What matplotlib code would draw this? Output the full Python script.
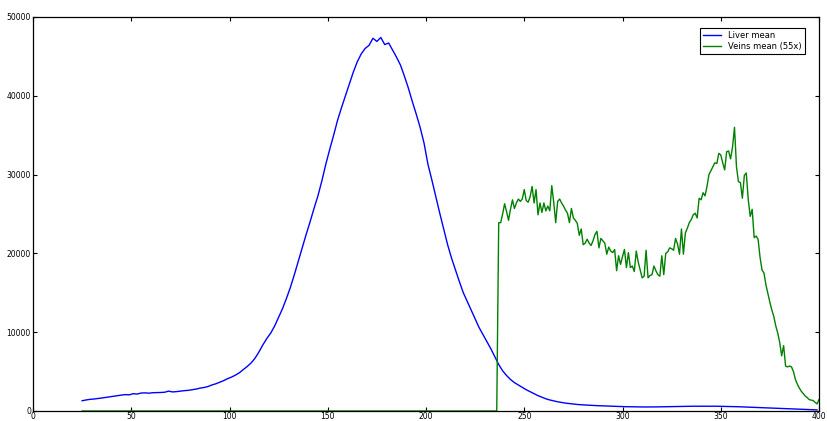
import matplotlib
matplotlib.use("Agg")
import matplotlib.pyplot as plt
import numpy as np

# liver mean, read every 2 units from x=25
liver_x = np.arange(25, 401, 2)
liver_mean = [
    1300, 1400, 1480, 1520, 1580, 1650, 1720, 1800, 1870, 1950,
    2020, 2080, 2050, 2200, 2150, 2280, 2300, 2260, 2320, 2330,
    2350, 2380, 2520, 2420, 2460, 2520, 2580, 2620, 2700, 2780,
    2900, 2980, 3100, 3300, 3450, 3650, 3850, 4100, 4300, 4550,
    4850, 5250, 5650, 6100, 6700, 7500, 8400, 9200, 9900, 10800,
    11900, 13000, 14300, 15700, 17300, 19000, 20700, 22400, 24000, 25700,
    27300, 29200, 31300, 33200, 35000, 36900, 38500, 40000, 41500, 43000,
    44300, 45300, 46000, 46400, 47300, 46900, 47400, 46500, 46700, 45800,
    44900, 43900, 42500, 41000, 39300, 37700, 36000, 34000, 31300, 29300,
    27200, 25100, 23100, 21100, 19400, 17900, 16400, 15000, 13900, 12800,
    11700, 10600, 9700, 8800, 7900, 6900, 5900, 5100, 4500, 4000,
    3600, 3300, 3000, 2700, 2450, 2200, 1950, 1750, 1550, 1400,
    1280, 1170, 1080, 1000, 940, 880, 830, 790, 760, 730,
    700, 680, 660, 640, 620, 600, 580, 560, 550, 540,
    530, 520, 520, 510, 510, 520, 520, 530, 540, 550,
    560, 570, 580, 590, 600, 600, 610, 600, 610, 600,
    600, 610, 600, 590, 570, 560, 550, 540, 520, 500,
    480, 460, 440, 420, 400, 380, 360, 340, 320, 300,
    280, 260, 240, 220, 200, 180, 160, 140,
]

# veins mean (scaled 55x), zero from x=25 to 236, then one value per unit
veins_start = 25
veins_zero_until = 236
veins_values = [
    23900, 23900, 25000, 26300, 25300, 24200, 25600, 26800, 25700, 26400,  # 237-246
    26900, 26600, 26900, 28100, 26700, 26500, 27200, 28500, 26400, 28100,  # 247-256
    24900, 26400, 25200, 26400, 25400, 26000, 25400, 28600, 26500, 23900,  # 257-266
    26600, 26900, 26400, 26000, 25500, 25100, 23900, 25700, 24500, 24200,  # 267-276
    23800, 22300, 23100, 21100, 21300, 21800, 21300, 21000, 21600, 22400,  # 277-286
    22800, 20700, 21900, 21600, 21300, 19900, 20800, 20300, 20100, 20500,  # 287-296
    17800, 19700, 18600, 19600, 20500, 18200, 20100, 18200, 18400, 17700,  # 297-306
    20300, 18900, 17900, 16900, 17100, 20400, 16900, 17200, 17300, 18400,  # 307-316
    17800, 17300, 17100, 19700, 17300, 20000, 20200, 20700, 20600, 20400,  # 317-326
    21900, 21200, 19900, 23100, 19900, 22600, 23200, 23900, 24300, 24900,  # 327-336
    25100, 24500, 27000, 26800, 27700, 27300, 28500, 30000, 30500, 31000,  # 337-346
    31500, 31400, 32700, 32500, 31500, 30600, 32900, 33000, 32000, 33500,  # 347-356
    36000, 31000, 29100, 29000, 27000, 29900, 30200, 26800, 24700, 25600,  # 357-366
    22000, 22200, 21800, 19500, 17900, 17500, 16000, 14900, 13800, 12800,  # 367-376
    12000, 10800, 9900, 8700, 7000, 8300, 5700, 5600, 5700, 5600,         # 377-386
    5000, 4000, 3400, 2900, 2500, 2200, 1900, 1700, 1450, 1380,          # 387-396
    1330, 1100, 900, 1450,                                               # 397-400
]
veins_x = np.arange(veins_start, veins_zero_until + 1 + len(veins_values))
veins_mean = np.concatenate([np.zeros(veins_zero_until - veins_start + 1),
                             veins_values])

x_ticks = [0, 50, 100, 150, 200, 250, 300, 350, 400]
y_ticks = [0, 10000, 20000, 30000, 40000, 50000]

fig = plt.figure(figsize=(8.27, 4.21), dpi=100)
ax = fig.add_axes([33 / 827, 10 / 421, 786 / 827, 394 / 421])

ax.plot(liver_x, liver_mean, color=(0, 0, 1), lw=1.0, label='Liver mean')
ax.plot(veins_x, veins_mean, color=(0, 0.5, 0), lw=1.0,
        label='Veins mean (55x)')

ax.set_xlim(0, 400)
ax.set_ylim(0, 50000)
ax.set_xticks(x_ticks)
ax.set_yticks(y_ticks)
ax.tick_params(direction='in', length=3, width=0.8, labelsize=5.5, pad=1.5,
               top=True, right=True)
ax.tick_params(axis='x', pad=0.8)
for s in ax.spines.values():
    s.set_linewidth(0.9)

# legend box sits ~14px from the right spine and ~10px below the top one
leg = ax.legend(loc='upper right', bbox_to_anchor=(1 - 14 / 786, 1 - 10.5 / 394),
                borderaxespad=0, fontsize=6, fancybox=False,
                edgecolor='black', framealpha=1, handlelength=2.2,
                borderpad=0.4, labelspacing=0.25)
leg.get_frame().set_linewidth(0.8)

fig.savefig('out.png', dpi=100, facecolor='white')
